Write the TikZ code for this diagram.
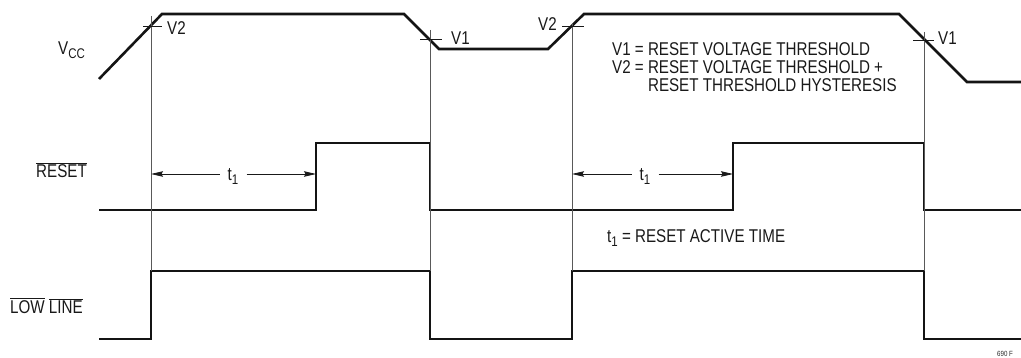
\documentclass[tikz,border=0pt]{standalone}
\usepackage{fontspec}
\setmainfont{Liberation Sans}[FakeStretch=0.82]
\usetikzlibrary{arrows.meta}
\newcommand\sub[1]{\raisebox{-4pt}{\fontsize{14}{14}\selectfont #1}}
\newcommand\ovl[1]{\ensuremath{\overline{\mbox{#1}}}}
\begin{document}
\begin{tikzpicture}[x=1pt,y=-1pt,
  wave/.style={line width=2.6pt, line join=miter, black!92},
  guide/.style={line width=0.8pt, black!65},
  tickline/.style={line width=0.9pt, black!90},
  lbl/.style={font=\fontsize{18.5}{18}\selectfont, inner sep=0pt, text=black!90},
  arr/.style={line width=0.8pt, black!90, -{Stealth[length=12pt,width=5.5pt,inset=1.5pt]}}]
\useasboundingbox (0,0) rectangle (1021,358);

% waveforms
\draw[wave] (99,79) -- (162,14) -- (404,14) -- (439,49) -- (548,49) -- (584,14) -- (899,14) -- (967,82) -- (1021,82);
\draw[wave] (99,210) -- (316,210) -- (316,143) -- (430,143) -- (430,210) -- (733,210) -- (733,143) -- (924,143) -- (924,210) -- (1021,210);
\draw[wave] (99,339) -- (151,339) -- (151,271) -- (430,271) -- (430,339) -- (572,339) -- (572,271) -- (924,271) -- (924,339) -- (1021,339);

% guides
\draw[guide] (151,16) -- (151,271);
\draw[guide] (430,30) -- (430,271);
\draw[guide] (572,24) -- (572,271);
\draw[guide] (924,32) -- (924,271);

% threshold ticks
\draw[tickline] (143,26) -- (162,26);
\node[lbl, anchor=base west] (v2a) at (167,35) {V2};
\draw[tickline] (420,39) -- (442,39);
\node[lbl, anchor=base west] (v1a) at (451,45) {V1};
\draw[tickline] (562,26) -- (584,26);
\node[lbl, anchor=base east] (v2b) at (557,31) {V2};
\draw[tickline] (913,40) -- (934,40);
\node[lbl, anchor=base west] (v1b) at (938,45) {V1};

% signal labels
\node[lbl, anchor=base west] (vcc) at (58,55) {V\sub{CC}};
\node[lbl, anchor=base west] (rst) at (36,178) {\ovl{RESET}};
\node[lbl, anchor=base west] (ll) at (10,313) {\ovl{LOW} \ovl{LINE}};

% t1 arrows
\coordinate (a1) at (151,174);
\coordinate (b1) at (316,174);
\node[lbl, anchor=base, inner xsep=8pt] (ta) at (233,181) {t\sub{1}};
\draw[arr] (ta.west |- a1) -- (a1);
\draw[arr] (ta.east |- b1) -- (b1);
\coordinate (a2) at (572,174);
\coordinate (b2) at (733,174);
\node[lbl, anchor=base, inner xsep=8pt] (tb) at (645,181) {t\sub{1}};
\draw[arr] (tb.west |- a2) -- (a2);
\draw[arr] (tb.east |- b2) -- (b2);

% legend
\node[lbl, anchor=base west, align=left] (leg1) at (612,56) {V1 = RESET VOLTAGE THRESHOLD};
\node[lbl, anchor=base west] (leg2) at (612,74) {V2 = RESET VOLTAGE THRESHOLD +};
\node[lbl, anchor=base west] (leg3) at (612,92) {\phantom{V2 = }RESET THRESHOLD HYSTERESIS};
\node[lbl, anchor=base west] (leg4) at (607,243) {t\sub{1} = RESET ACTIVE TIME};

\node[inner sep=0pt, anchor=base west, font=\fontsize{7.5}{8}\selectfont, text=black!85] (fig) at (997,356) {690 F};
\end{tikzpicture}
\end{document}
